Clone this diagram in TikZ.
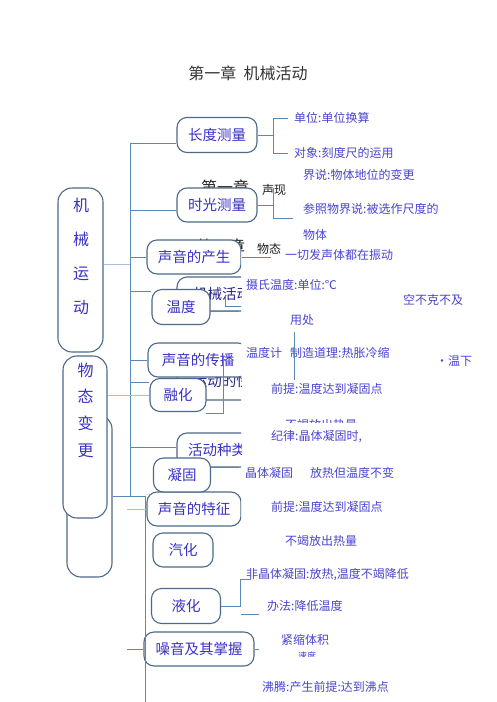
\documentclass[tikz,border=0pt]{standalone}
\usepackage{fontspec}
\usepackage{xcolor}
\usepackage{tikz}
\usetikzlibrary{positioning, calc}
\newfontfamily\cjk{Noto Sans CJK SC}
\definecolor{Ink}{HTML}{1E1E1E}
\definecolor{Title}{HTML}{333333}
\definecolor{Slate}{HTML}{4D6B88}
\definecolor{Wire}{HTML}{5B89B5}
\definecolor{WireLight}{HTML}{A3C0DC}
\definecolor{BoxInk}{HTML}{3A32C4}
\definecolor{NoteInk}{HTML}{4A44D0}

\begin{document}
\begin{tikzpicture}[
  x=1pt, y=-1pt,
  font=\cjk,
  box/.style={rounded corners=10pt, draw=Slate, line width=1.1pt, fill=white, text=BoxInk, inner sep=0pt, minimum height=34pt, font=\cjk\fontsize{14.5}{16}\selectfont},
  column/.style={box, rounded corners=14pt, minimum width=45pt},
  coltext/.style={inner sep=0pt, align=center, text=BoxInk},
  note/.style={anchor=west, inner sep=0pt, text=NoteInk, font=\cjk\fontsize{12}{14}\selectfont},
  ghost/.style={inner sep=0pt, text=Ink, font=\cjk\fontsize{12}{14}\selectfont},
  wire/.style={draw=Wire, line width=0.9pt},
  faint/.style={draw=WireLight, line width=0.9pt}
]
\fill[white] (0,0) rectangle (496,702);
\useasboundingbox (0,0) rectangle (496,702);

\node[inner sep=0pt, text=Title, font=\cjk\fontsize{16}{18}\selectfont] (title) at (248,73) {第一章\ \ 机械活动};

\node[ghost, font=\cjk\fontsize{16}{18}\selectfont] (ghostone) at (225,187) {第一章};
\node[ghost, font=\cjk\fontsize{16}{18}\selectfont] (ghosttwo) at (221,246) {第一章};

\coordinate (trunktop) at (130,143);
\coordinate (trunkknee) at (130,496);
\coordinate (spinefoot) at (145,702);

\node[column, minimum height=162pt] (back) at (89.5,496) {};
\node[column, minimum height=164pt] (mech) at (80.5,270) {};
\node[coltext, font=\cjk\fontsize{16}{34}\selectfont] (mechtxt) at (81,256) {机\\械\\运\\动};
\node[column, minimum width=44pt, minimum height=162pt] (matter) at (85,437) {};
\node[coltext, font=\cjk\fontsize{16}{26.7}\selectfont] (mattertxt) at (85.5,410) {物\\态\\变\\更};

\node[box, minimum width=80pt, minimum height=35pt] (len) at (217,135) {长度测量};
\node[box, minimum width=80pt] (time) at (217,205) {时光测量};

\begin{scope}
  \clip (0,0) rectangle (241,702);
  \node[box, minimum width=94pt] (sndgen) at (194,257) {声音的产生};
  \node[box, minimum width=90pt, text=BoxInk!70!black] (mechact) at (222,294) {机械活动};
  \draw[wire] ($(mechact.center)+(3,1)$) -- ++(0,11) -- ++(20,0);
  \node[box, minimum width=104pt, minimum height=38pt, text=BoxInk!70!black] (speed) at (229,381) {运动的快慢};
  \node[box, minimum width=100pt] (sndprop) at (198,360) {声音的传播};
  \node[box, minimum width=80pt] (kinds) at (217,450) {活动种类};
  \node[box, minimum width=94pt] (sndchar) at (194,509) {声音的特征};
\end{scope}

\node[box, minimum width=58pt, minimum height=35pt] (temp) at (181,307) {温度};
\node[box, minimum width=56pt, minimum height=33pt] (melt) at (178,395) {融化};
\node[box, minimum width=57pt] (solid) at (182,475) {凝固};
\node[box, minimum width=60pt] (vapor) at (183,550) {汽化};
\node[box, minimum width=69pt, minimum height=35pt] (liquid) at (186,606) {液化};
\node[box, minimum width=110pt] (noise) at (199,649) {噪音及其掌握};

\draw[wire] (trunktop) -- (trunkknee);
\draw[wire] (back.east) -- (back.east -| spinefoot) -- (spinefoot);
\draw[wire] (trunktop) -- (trunktop -| len.west);
\coordinate (timein) at ($(time.west)+(0,5)$);
\draw[wire] (timein -| trunktop) -- (timein);
\draw[wire] (sndgen.west -| trunktop) -- (sndgen.west);
\coordinate (mechout) at ($(mech.east)+(0,-6)$);
\draw[faint] (mechout) -- (mechout -| trunktop);
\coordinate (tempin) at ($(temp.north west)+(0,2)$);
\draw[wire] (tempin -| trunktop) -- (tempin);
\draw[wire] (sndprop.west -| trunktop) -- (sndprop.west);
\coordinate (meltin) at ($(melt.west)+(0,-13)$);
\draw[wire] (meltin -| trunktop) -- (meltin);
\draw[faint] (matter.east |- melt.west) -- (melt.west);
\coordinate (kindsin) at ($(kinds.west)+(0,-3)$);
\draw[wire] (kindsin -| trunktop) -- (kindsin);
\draw[faint] ($(sndchar.west)+(-19,0)$) -- (sndchar.west);
\draw[wire] ($(noise.west)+(-16,0)$) -- (noise.west);

\node[note] (unit) at (294,118) {单位:单位换算};
\node[note] (scale) at (294,153) {对象:刻度尺的运用};
\node[note] (define) at (303,175) {界说:物体地位的变更};
\node[note] (refer) at (303,209) {参照物界说:被选作尺度的};
\node[note] (body) at (303,235) {物体};
\node[note] (vibrate) at (285,255) {一切发声体都在振动};
\node[note] (celsius) at (246,285) {摄氏温度:单位:℃};
\node[note] (cannot) at (403,300) {空不克不及};
\node[note] (usage) at (290,320) {用处};
\node[note] (meter) at (246,353) {温度计};
\node[note] (making) at (290,353) {制造道理:热胀冷缩};
\node[note] (below) at (436,361) {·温下};
\node[note] (premise) at (271,389) {前提:温度达到凝固点};
\begin{scope}
  \clip (0,0) rectangle (496,422);
  \node[note] (heatcut) at (285,425) {不竭放出热量};
\end{scope}
\node[note] (law) at (271,437) {纪律:晶体凝固时,};
\node[note] (crystal) at (245,473) {晶体凝固};
\node[note] (steady) at (310,473) {放热但温度不变};
\node[note] (premisetwo) at (271,507) {前提:温度达到凝固点};
\node[note] (heat) at (285,541) {不竭放出热量};
\node[note] (noncrys) at (246,575) {非晶体凝固:放热,温度不竭降低};
\node[note] (method) at (267,606) {办法:降低温度};
\node[note] (compress) at (281,640) {紧缩体积};
\begin{scope}
  \clip (0,0) rectangle (496,656);
  \node[note, font=\cjk\fontsize{9}{10}\selectfont] (rate) at (298,656) {速度};
\end{scope}
\node[note] (boil) at (262,687) {沸腾:产生前提:达到沸点};

\node[ghost, anchor=west] (sndphen) at (262,190) {声现};
\node[ghost, anchor=west] (matterstate) at (257,249) {物态};

\draw[wire] (len.east) -- ++(16,0) coordinate (lenfork);
\draw[wire] ($(unit.west)+(-6,0)$) -| (lenfork) |- ($(scale.west)+(-6,0)$);
\draw[wire] (time.east) -- ++(16,0) coordinate (timefork);
\draw[wire] ($(timefork)+(0,-17)$) -- ($(timefork)+(0,13)$) -- ++(19,0);
\draw[wire] (sndgen.east) -- ++(29,0);
\draw[wire] ($(temp.east)+(0,4)$) -- ++(28,0);
\draw[wire] ($(usage.west)+(4,12)$) -- ++(0,48);
\draw[wire] ($(melt.south east)+(-1,1)$) -- ++(18,0) -- ++(0,-56);
\draw[wire] ($(solid.east)+(0,-8)$) -- ++(28,0);
\draw[wire] (liquid.east) -- ++(19,0) -- ++(0,-27) -- ++(11,0);
\draw[wire] ($(liquid.east)+(20,8)$) -- ++(18,0);
\draw[wire] (noise.east) -- ++(4,0);
\end{tikzpicture}
\end{document}
